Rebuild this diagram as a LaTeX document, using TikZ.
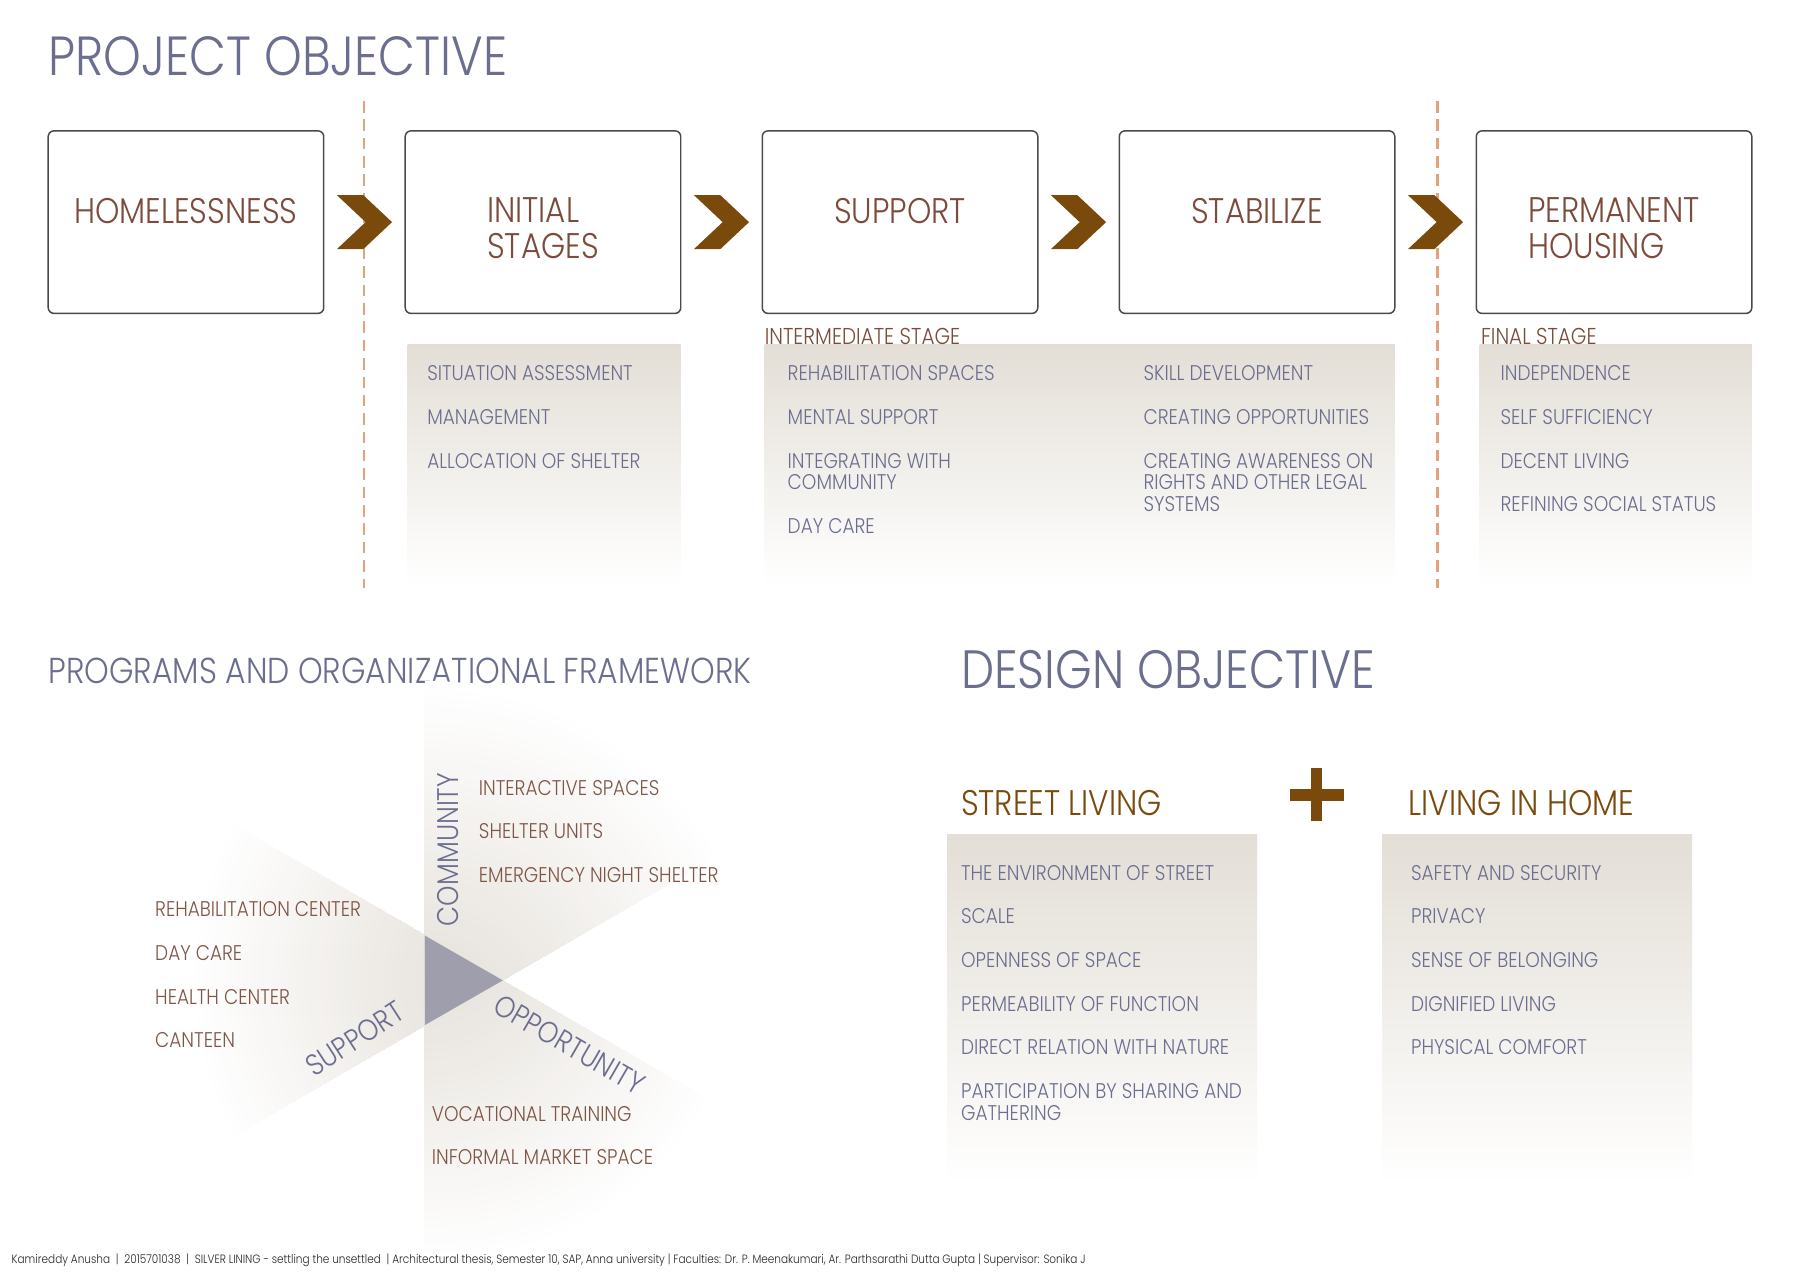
\documentclass[tikz,border=0pt]{standalone}
\usepackage{fontspec}
\setmainfont{Poppins}[UprightFont=* Light,BoldFont=*,FakeStretch=0.87]
\usetikzlibrary{calc}
\definecolor{slate}{HTML}{6B6E8F}
\definecolor{brtxt}{HTML}{7C4B3B}
\definecolor{brdia}{HTML}{7E5646}
\definecolor{gold}{HTML}{7A4A0C}
\definecolor{dashcol}{HTML}{E2A27C}
\definecolor{panelcol}{HTML}{E3DED6}
\definecolor{wedgecol}{HTML}{E2DDD5}
\definecolor{tricol}{HTML}{9F9EAD}
\definecolor{boxcol}{HTML}{4A4A4A}
\newcommand\fTitle{\fontsize{48}{52}\selectfont}
\newcommand\fDes{\fontsize{47}{52}\selectfont}
\newcommand\fSub{\fontsize{31}{31}\selectfont}
\newcommand\fProg{\fontsize{31.4}{31}\selectfont}
\newcommand\fBox{\fontsize{31}{31}\selectfont}
\newcommand\fItem{\fontsize{18.5}{19}\selectfont}
\newcommand\fStage{\fontsize{20}{20}\selectfont}
\newcommand\fAxis{\fontsize{26}{26}\selectfont}
\newcommand\fFoot{\fontsize{10.5}{11}\selectfont}
% radial fade drawn as concentric discs: centre, radius
\newcommand\fanfill[2]{%
  \foreach \i in {40,39,...,1}{%
    \pgfmathsetmacro\pc{100-2.5*\i}%
    \fill[wedgecol!\pc!white] (#1) circle ({#2*\i/40});}}
\begin{document}
\begin{tikzpicture}[x=1pt,y=-1pt,
  stagebox/.style={draw=boxcol,line width=1.3pt,rounded corners=5pt,minimum width=240pt,minimum height=159pt,inner sep=0pt},
  boxlbl/.style={anchor=north,inner sep=0pt,font=\fBox,text=brtxt,align=left},
  titlelbl/.style={anchor=north west,inner sep=0pt,font=\fTitle,text=slate},
  sublbl/.style={anchor=north west,inner sep=0pt,font=\fSub,text=slate},
  headlbl/.style={anchor=north west,inner sep=0pt,font=\fSub,text=gold},
  itm/.style={anchor=north west,inner sep=0pt,font=\fItem,text=slate,align=left},
  itmb/.style={anchor=north west,inner sep=0pt,font=\fItem,text=brdia,align=left},
  stagelbl/.style={anchor=north west,inner sep=0pt,font=\fStage,text=brtxt},
  axislbl/.style={inner sep=0pt,font=\fAxis,text=slate},
  dashline/.style={draw=dashcol,line width=2.2pt,dash pattern=on 10pt off 6pt},
  panel/.style={top color=panelcol,bottom color=white,draw=none},
  chevron/.pic={\fill[gold] (-24,-23.5)--(-1,-23.5)--(24,0)--(-1,23.5)--(-24,23.5)--(1,0)--cycle;}
]
\useasboundingbox[fill=white] (0,0) rectangle (1568,1108);

% ---------- PROJECT OBJECTIVE ----------
\node[titlelbl] (title1) at (42,32) {PROJECT OBJECTIVE};

\draw[dashline] (317,88) -- (317,512);
\draw[dashline] (1252,88) -- (1252,512);

\node[stagebox] (b1) at (162,193.5) {};
\node[stagebox] (b2) at (473,193.5) {};
\node[stagebox] (b3) at (784,193.5) {};
\node[stagebox] (b4) at (1095,193.5) {};
\node[stagebox] (b5) at (1406,193.5) {};

\node[boxlbl] (t1) at ($(b1.north)+(0,59)$) {HOMELESSNESS};
\node[boxlbl] (t2) at ($(b2.north)+(0,59)$) {INITIAL\\STAGES};
\node[boxlbl] (t3) at ($(b3.north)+(0,59)$) {SUPPORT};
\node[boxlbl] (t4) at ($(b4.north)+(0,59)$) {STABILIZE};
\node[boxlbl] (t5) at ($(b5.north)+(0,59)$) {PERMANENT\\HOUSING};

\coordinate (c1) at ($(b1.east)!0.5!(b2.west)$);
\coordinate (c2) at ($(b2.east)!0.5!(b3.west)$);
\coordinate (c3) at ($(b3.east)!0.5!(b4.west)$);
\coordinate (c4) at ($(b4.east)!0.5!(b5.west)$);
\pic at (c1) {chevron};
\pic at (c2) {chevron};
\pic at (c3) {chevron};
\pic at (c4) {chevron};

\shade[panel] (355,300) rectangle (593,510);
\shade[panel] (666,300) rectangle (1215,510);
\shade[panel] (1289,300) rectangle (1526,510);

\node[stagelbl] (s1) at (666,286) {INTERMEDIATE STAGE};
\node[stagelbl] (s2) at (1290,286) {FINAL STAGE};

\node[itm] (p1a) at (372,318.5) {SITUATION ASSESSMENT};
\node[itm] (p1b) at (372,356.5) {MANAGEMENT};
\node[itm] (p1c) at (372,394.5) {ALLOCATION OF SHELTER};

\node[itm] (p2a) at (686,318.5) {REHABILITATION SPACES};
\node[itm] (p2b) at (686,356.5) {MENTAL SUPPORT};
\node[itm] (p2c) at (686,394.5) {INTEGRATING WITH\\COMMUNITY};
\node[itm] (p2d) at (686,451.5) {DAY CARE};

\node[itm] (p3a) at (996,318.5) {SKILL DEVELOPMENT};
\node[itm] (p3b) at (996,356.5) {CREATING OPPORTUNITIES};
\node[itm] (p3c) at (996,394.5) {CREATING AWARENESS ON\\RIGHTS AND OTHER LEGAL\\SYSTEMS};

\node[itm] (p4a) at (1307,318.5) {INDEPENDENCE};
\node[itm] (p4b) at (1307,356.5) {SELF SUFFICIENCY};
\node[itm] (p4c) at (1307,394.5) {DECENT LIVING};
\node[itm] (p4d) at (1307,432.5) {REFINING SOCIAL STATUS};

% ---------- PROGRAMS AND ORGANIZATIONAL FRAMEWORK ----------
\node[sublbl,font=\fProg] (title2) at (42,573) {PROGRAMS AND ORGANIZATIONAL FRAMEWORK};

\begin{scope}
  \clip (438,854) -- (92,654) -- (-24,854) -- (92,1054) -- cycle;
  \fanfill{438,854}{275}
\end{scope}
\begin{scope}
  \clip (370,893) -- (370,493) -- (601,493) -- (716,693) -- cycle;
  \fanfill{370,893}{300}
\end{scope}
\begin{scope}
  \clip (370,815) -- (370,1215) -- (601,1215) -- (716,1015) -- cycle;
  \fanfill{370,815}{290}
\end{scope}
\fill[tricol] (370,815) -- (438,854) -- (370,893) -- cycle;

\node[axislbl,rotate=90] (comm) at (390,740) {COMMUNITY};
\node[axislbl,rotate=33] (supp) at (309,905) {SUPPORT};
\node[axislbl,rotate=-30] (oppo) at (496,910) {OPPORTUNITY};

\node[itmb] (d1a) at (417,679.5) {INTERACTIVE SPACES};
\node[itmb] (d1b) at (417,717.5) {SHELTER UNITS};
\node[itmb] (d1c) at (417,755.5) {EMERGENCY NIGHT SHELTER};

\node[itmb] (d2a) at (135,785.5) {REHABILITATION CENTER};
\node[itmb] (d2b) at (135,823.5) {DAY CARE};
\node[itmb] (d2c) at (135,861.5) {HEALTH CENTER};
\node[itmb] (d2d) at (135,899.5) {CANTEEN};

\node[itmb] (d3a) at (376,963.5) {VOCATIONAL TRAINING};
\node[itmb] (d3b) at (376,1001.5) {INFORMAL MARKET SPACE};

% ---------- DESIGN OBJECTIVE ----------
\node[titlelbl,font=\fDes] (title3) at (837,566) {DESIGN OBJECTIVE};

\node[headlbl] (h1) at (837,688) {STREET LIVING};
\node[headlbl] (h2) at (1227,688) {LIVING IN HOME};
\fill[gold] (1142,669) rectangle (1152,715);
\fill[gold] (1124,687) rectangle (1171,698);

\shade[panel] (825,727) rectangle (1095,1032);
\shade[panel] (1204,727) rectangle (1474,1032);

\node[itm] (e1a) at (837,753.5) {THE ENVIRONMENT OF STREET};
\node[itm] (e1b) at (837,791.5) {SCALE};
\node[itm] (e1c) at (837,829.5) {OPENNESS OF SPACE};
\node[itm] (e1d) at (837,867.5) {PERMEABILITY OF FUNCTION};
\node[itm] (e1e) at (837,905.5) {DIRECT RELATION WITH NATURE};
\node[itm] (e1f) at (837,943.5) {PARTICIPATION BY SHARING AND\\GATHERING};

\node[itm] (e2a) at (1229,753.5) {SAFETY AND SECURITY};
\node[itm] (e2b) at (1229,791.5) {PRIVACY};
\node[itm] (e2c) at (1229,829.5) {SENSE OF BELONGING};
\node[itm] (e2d) at (1229,867.5) {DIGNIFIED LIVING};
\node[itm] (e2e) at (1229,905.5) {PHYSICAL COMFORT};

% ---------- footer ----------
\node[anchor=base west,inner sep=0pt,font=\fFoot,text=black!85] (foot) at (10,1101)
  {Kamireddy Anusha \ | \ 2015701038 \ | \ SILVER LINING - settling the unsettled \ | Architectural thesis, Semester 10, SAP, Anna university | Faculties: Dr. P. Meenakumari, Ar. Parthsarathi Dutta Gupta | Supervisor: Sonika J};
\end{tikzpicture}
\end{document}
